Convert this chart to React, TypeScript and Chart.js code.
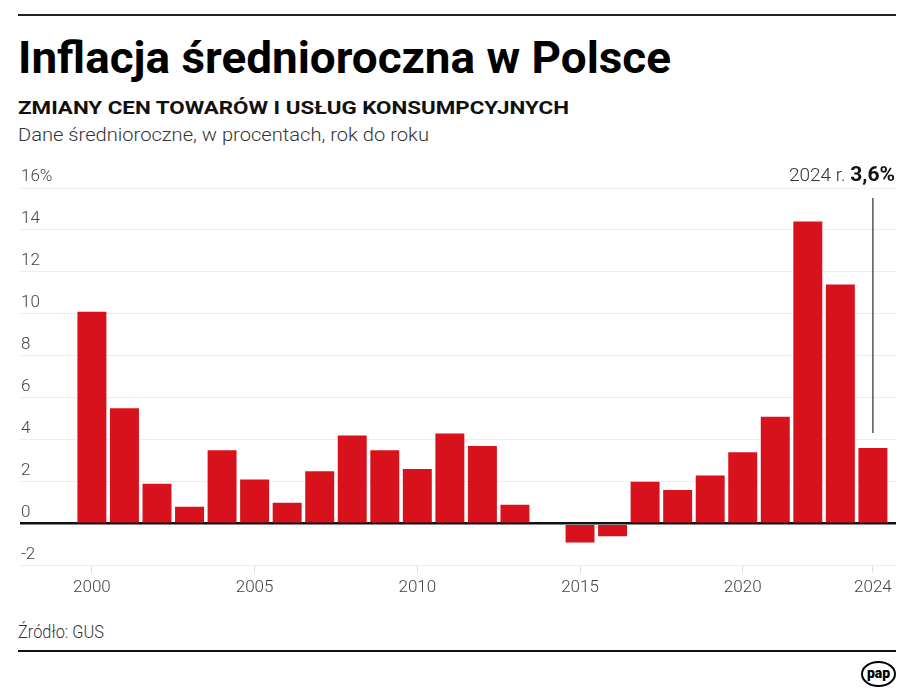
import React, { useEffect, useLayoutEffect, useRef } from 'react';
import { Chart, registerables } from 'chart.js';

Chart.register(...registerables);

// ---- data ----
const years: number[] = [
  2000, 2001, 2002, 2003, 2004, 2005, 2006, 2007, 2008, 2009, 2010, 2011, 2012,
  2013, 2014, 2015, 2016, 2017, 2018, 2019, 2020, 2021, 2022, 2023, 2024,
];
const inflation: number[] = [
  10.1, 5.5, 1.9, 0.8, 3.5, 2.1, 1.0, 2.5, 4.2, 3.5, 2.6, 4.3, 3.7,
  0.9, 0.0, -0.9, -0.6, 2.0, 1.6, 2.3, 3.4, 5.1, 14.4, 11.4, 3.6,
];
const xTickYears: number[] = [2000, 2005, 2010, 2015, 2020, 2024];
const yTickMin = -2;
const yTickMax = 16;
const yTickStep = 2;
const highlightYear = 2024;
const highlightPrefix = '2024 r. ';
const highlightValue = '3,6%';

const TITLE = 'Inflacja średnioroczna w Polsce';
const SUBTITLE = 'ZMIANY CEN TOWARÓW I USŁUG KONSUMPCYJNYCH';
const DESCRIPTION = 'Dane średnioroczne, w procentach, rok do roku';
const SOURCE = 'Źródło: GUS';

const RED = '#d8121d';
const FONT = 'Roboto, "Noto Sans", sans-serif';

function FitText({ text, width, style }: { text: string; width: number; style: React.CSSProperties }) {
  const ref = useRef<HTMLDivElement>(null);
  useLayoutEffect(() => {
    const el = ref.current;
    if (!el) return;
    el.style.transform = 'none';
    const w = el.getBoundingClientRect().width;
    if (w > 0) el.style.transform = `scaleX(${width / w})`;
  }, [text, width]);
  return (
    <div
      ref={ref}
      style={{
        position: 'absolute',
        whiteSpace: 'nowrap',
        transformOrigin: 'left top',
        fontFamily: FONT,
        ...style,
      }}
    >
      {text}
    </div>
  );
}

const annotationPlugin = {
  id: 'highlightAnnotation',
  afterDatasetsDraw(chart: any) {
    const { ctx, chartArea, scales } = chart;
    const xs = scales.x;
    const ys = scales.y;
    const idx = years.indexOf(highlightYear);
    const x = xs.getPixelForValue(highlightYear);
    const barTop = ys.getPixelForValue(inflation[idx]);
    ctx.save();
    ctx.strokeStyle = '#555';
    ctx.lineWidth = 1.5;
    ctx.beginPath();
    ctx.moveTo(x, chartArea.top + 10);
    ctx.lineTo(x, barTop - 15);
    ctx.stroke();

    const right = chartArea.right - 1;
    const base = chartArea.top - 7;
    ctx.textBaseline = 'alphabetic';
    ctx.textAlign = 'right';
    ctx.font = `bold 21px ${FONT}`;
    ctx.fillStyle = '#111';
    ctx.fillText(highlightValue, right, base);
    const bw = ctx.measureText(highlightValue).width;
    ctx.font = `300 19px ${FONT}`;
    ctx.fillStyle = '#333';
    ctx.fillText(highlightPrefix, right - bw, base);
    ctx.restore();
  },
};

function BarChart() {
  const canvasRef = useRef<HTMLCanvasElement>(null);
  useEffect(() => {
    const canvas = canvasRef.current;
    if (!canvas) return;
    const chart = new Chart(canvas, {
      type: 'bar',
      data: {
        datasets: [
          {
            data: years.map((y, i) => ({ x: y, y: inflation[i] })),
            backgroundColor: RED,
            borderWidth: 0,
            barPercentage: 0.89,
            categoryPercentage: 1,
          },
        ],
      },
      options: {
        animation: false,
        responsive: false,
        events: [],
        layout: { padding: { left: 18, right: 19, top: 28, bottom: 0 } },
        plugins: { legend: { display: false }, tooltip: { enabled: false }, title: { display: false } },
        scales: {
          x: {
            type: 'linear',
            offset: false,
            min: 1997.79,
            max: 2024.71,
            afterBuildTicks: (scale: any) => {
              scale.ticks = xTickYears.map((v) => ({ value: v }));
            },
            grid: {
              offset: false,
              drawOnChartArea: false,
              drawTicks: true,
              tickLength: 7,
              color: '#dcdcdc',
              lineWidth: 1,
            },
            border: { display: false },
            ticks: {
              autoSkip: false,
              maxRotation: 0,
              padding: 5,
              color: '#444',
              font: { family: FONT, size: 17, weight: '300' as any },
              callback: (v: any) => String(v),
            },
          },
          y: {
            type: 'linear',
            min: yTickMin,
            max: yTickMax,
            grid: {
              drawTicks: false,
              color: (c: any) => (c.tick && c.tick.value === 0 ? '#111' : '#eeeeee'),
              lineWidth: (c: any) => (c.tick && c.tick.value === 0 ? 2.5 : 1),
            },
            border: { display: false },
            ticks: {
              stepSize: yTickStep,
              mirror: true,
              padding: 1,
              labelOffset: -11,
              color: '#444',
              font: { family: FONT, size: 17, weight: '300' as any },
              callback: (v: any) => (v === yTickMax ? `${v}%` : String(v)),
            },
          },
        },
      },
      plugins: [annotationPlugin],
    } as any);
    return () => chart.destroy();
  }, []);
  return (
    <canvas
      ref={canvasRef}
      width={915}
      height={443}
      style={{ position: 'absolute', left: 0, top: 160, width: 915, height: 443 }}
    />
  );
}

export default function App() {
  useEffect(() => {
    document.body.style.margin = '0';
  }, []);
  return (
    <div style={{ position: 'absolute', left: 0, top: 0, width: 915, height: 695, background: '#fff', overflow: 'hidden' }}>
      <div style={{ position: 'absolute', left: 18, top: 14, width: 878, height: 2, background: '#222' }} />
      <FitText text={TITLE} width={653} style={{ left: 18, top: 36, fontSize: 44, lineHeight: '44px', fontWeight: 700, color: '#000' }} />
      <FitText text={SUBTITLE} width={551} style={{ left: 18, top: 99, fontSize: 18, lineHeight: '18px', fontWeight: 700, color: '#111' }} />
      <FitText text={DESCRIPTION} width={411} style={{ left: 18, top: 126, fontSize: 18, lineHeight: '18px', fontWeight: 300, color: '#333' }} />
      <BarChart />
      <FitText text={SOURCE} width={86} style={{ left: 18, top: 623, fontSize: 18, lineHeight: '18px', fontWeight: 300, color: '#333' }} />
      <div style={{ position: 'absolute', left: 18, top: 650, width: 878, height: 2, background: '#111' }} />
      <div
        style={{
          position: 'absolute',
          left: 861,
          top: 661,
          width: 31,
          height: 22,
          border: '2px solid #000',
          borderRadius: '50%',
          fontFamily: FONT,
          fontWeight: 900,
          fontSize: 14,
          lineHeight: '21px',
          textAlign: 'center',
          color: '#000',
        }}
      >
        pap
      </div>
    </div>
  );
}
